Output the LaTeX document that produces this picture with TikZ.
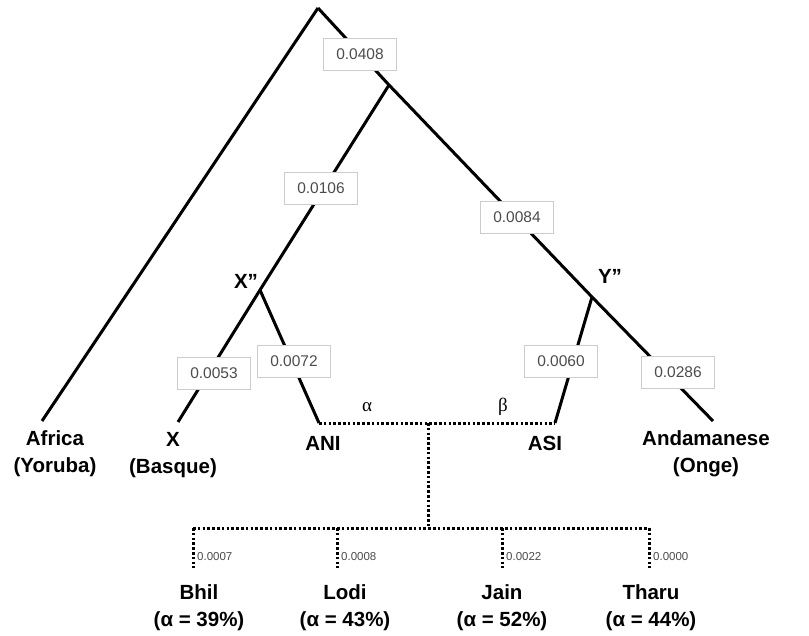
\documentclass[tikz,border=0pt]{standalone}
\usepackage{fontspec}
\setmainfont{Liberation Sans}
\newfontfamily\seriffont{Liberation Serif}
\begin{document}
\begin{tikzpicture}[x=1pt,y=-1pt,
  branch/.style={line width=3pt},
  dots/.style={line width=3pt, dash pattern=on 2.6pt off 2.2pt},
  val/.style={draw=black!20, fill=white, line width=0.7pt, minimum width=73pt, minimum height=32pt, font=\fontsize{15.5}{18}\selectfont, text=black!70, inner sep=0pt},
  small/.style={font=\fontsize{11.5}{13}\selectfont, text=black!70, anchor=west, inner sep=0pt},
  taxon/.style={font=\bfseries\fontsize{20.5}{27}\selectfont, align=center, inner sep=0pt},
  greek/.style={font=\seriffont\fontsize{19}{22}\selectfont, inner sep=0pt}
]
\useasboundingbox (0,0) rectangle (809,636);
% tree points
\coordinate (root) at (318,8);
\coordinate (n1) at (389,85);
\coordinate (xpp) at (260,290);
\coordinate (ypp) at (592,297);
\coordinate (afr) at (42,421);
\coordinate (xend) at (178,422);
\coordinate (ani) at (319,423);
\coordinate (asi) at (555,423);
\coordinate (andm) at (713,421);
\coordinate (mix) at (428,423);
\coordinate (mixb) at (428,528);
\coordinate (b0) at (193,528);
\coordinate (l0) at (337,528);
\coordinate (j0) at (502,528);
\coordinate (t0) at (649,528);
\coordinate (b1) at (193,568);
\coordinate (l1) at (337,568);
\coordinate (j1) at (502,568);
\coordinate (t1) at (649,568);
% solid branches
\draw[branch] (root) -- (afr);
\draw[branch] (root) -- (n1) -- (ypp) -- (andm);
\draw[branch] (n1) -- (xpp) -- (xend);
\draw[branch] (xpp) -- (ani);
\draw[branch] (ypp) -- (asi);
% admixture
\draw[dots] (ani) -- (asi);
\draw[dots] (mix) -- (mixb);
\draw[dots] (b0) -- (t0);
\draw[dots] (b0) -- (b1);
\draw[dots] (l0) -- (l1);
\draw[dots] (j0) -- (j1);
\draw[dots] (t0) -- (t1);
% branch values
\node[val] (v1) at (360,54) {0.0408};
\node[val] (v2) at (321,188) {0.0106};
\node[val] (v3) at (517,217) {0.0084};
\node[val] (v4) at (214,373) {0.0053};
\node[val] (v5) at (294,361) {0.0072};
\node[val] (v6) at (561,361) {0.0060};
\node[val] (v7) at (678,372) {0.0286};
% small values
\node[small] (s1) at (197,557) {0.0007};
\node[small] (s2) at (341,557) {0.0008};
\node[small] (s3) at (506,557) {0.0022};
\node[small] (s4) at (653,557) {0.0000};
% internal labels
\node[taxon] (lx) at (246,281) {X”};
\node[taxon] (ly) at (610,276) {Y”};
\node[greek] (la) at (367,407) {α};
\node[greek] (lb) at (503,407) {β};
% taxa
\node[taxon] (tafr) at (55,454) {Africa\\(Yoruba)};
\node[taxon] (tx) at (173,455) {X\\(Basque)};
\node[taxon] (tani) at (323,443) {ANI};
\node[taxon] (tasi) at (545,443) {ASI};
\node[taxon] (tand) at (706,454) {Andamanese\\(Onge)};
\node[taxon] (tb) at (199,608) {Bhil\\(α = 39\%)};
\node[taxon] (tl) at (345,608) {Lodi\\(α = 43\%)};
\node[taxon] (tj) at (502,608) {Jain\\(α = 52\%)};
\node[taxon] (tt) at (651,608) {Tharu\\(α = 44\%)};
\end{tikzpicture}
\end{document}
